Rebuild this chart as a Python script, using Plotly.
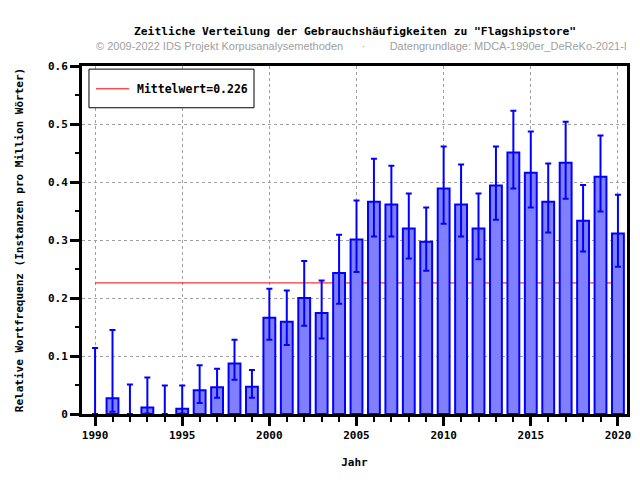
import plotly.graph_objects as go

years = list(range(1990, 2021))
values = [0.0, 0.027, 0.0, 0.011, 0.0, 0.009, 0.041, 0.046, 0.087, 0.047,
          0.166, 0.159, 0.200, 0.174, 0.243, 0.301, 0.366, 0.361, 0.320, 0.297,
          0.389, 0.361, 0.320, 0.394, 0.451, 0.416, 0.366, 0.433, 0.333, 0.409, 0.311]
err_upper = [0.114, 0.145, 0.051, 0.063, 0.049, 0.049, 0.084, 0.078, 0.128, 0.076,
             0.216, 0.213, 0.264, 0.230, 0.309, 0.368, 0.440, 0.428, 0.380, 0.356,
             0.461, 0.430, 0.380, 0.461, 0.523, 0.487, 0.432, 0.504, 0.395, 0.480, 0.378]
err_lower = [0.0, 0.004, 0.0, 0.001, 0.0, 0.001, 0.019, 0.028, 0.059, 0.028,
             0.128, 0.119, 0.152, 0.130, 0.190, 0.245, 0.306, 0.306, 0.268, 0.247,
             0.328, 0.306, 0.267, 0.335, 0.389, 0.356, 0.313, 0.371, 0.280, 0.349, 0.254]
mean_value = 0.226
mean_label = "Mittelwert=0.226"

title_text = 'Zeitliche Verteilung der Gebrauchshäufigkeiten zu "Flagshipstore"'
subtitle_text = "© 2009-2022 IDS Projekt Korpusanalysemethoden&nbsp;&nbsp;&nbsp;&nbsp;&nbsp;&nbsp;·&nbsp;&nbsp;&nbsp;&nbsp;&nbsp;&nbsp;&nbsp;&nbsp;Datengrundlage: MDCA-1990er_DeReKo-2021-I"
x_title = "Jahr"
y_title = "Relative Wortfrequenz (Instanzen pro Million Wörter)"

mono = "DejaVu Sans Mono"
x_range = [1989.25, 2020.52]
y_range = [0, 0.6]

fig = go.Figure()

# mean line on the base axes (drawn underneath the bars)
fig.add_trace(go.Scatter(
    x=[years[0], years[-1]], y=[mean_value, mean_value],
    mode="lines", line=dict(color="#ff0000", width=1),
    name=mean_label, showlegend=False, hoverinfo="skip",
    xaxis="x", yaxis="y"))

# bars on overlaying axes so they cover the mean line
fig.add_trace(go.Bar(
    x=years, y=values, width=0.68,
    marker=dict(color="#8080ff",
                line=dict(color="#0000ff", width=[2 if v > 0 else 0 for v in values])),
    error_y=dict(type="data", symmetric=False,
                 array=[u - v for u, v in zip(err_upper, values)],
                 arrayminus=[v - l for v, l in zip(values, err_lower)],
                 color="#0000ff", thickness=2, width=3),
    showlegend=False, xaxis="x2", yaxis="y2"))

# page body has an 8px margin, so the figure is 8px smaller and margins shifted
fig.update_layout(
    width=632, height=472,
    margin=dict(l=74, r=13, t=58, b=66, autoexpand=False),
    paper_bgcolor="white", plot_bgcolor="white",
    font=dict(family=mono, size=11, color="black", weight="bold"),
    showlegend=False,
    xaxis2=dict(overlaying="x", range=x_range, visible=False, showgrid=False),
    yaxis2=dict(overlaying="y", range=y_range, visible=False, showgrid=False),
)

# legend box (drawn by hand to match the reference's box size)
fig.add_shape(type="rect", xref="paper", yref="paper",
              x0=0.0128, x1=0.3156, y0=0.880, y1=0.991,
              line=dict(color="black", width=1), fillcolor="white", layer="above")
fig.add_shape(type="line", xref="paper", yref="paper",
              x0=0.0257, x1=0.0862, y0=0.9345, y1=0.9345,
              line=dict(color="#ff0000", width=1), layer="above")
fig.add_annotation(text=mean_label, xref="paper", yref="paper", x=0.0972, y=0.9345,
                   xanchor="left", yanchor="middle", showarrow=False,
                   font=dict(family=mono, size=11.5, color="black", weight="bold"))

fig.add_annotation(text=title_text, xref="paper", yref="paper", x=0.5, y=1,
                   xanchor="center", yanchor="bottom", yshift=26, showarrow=False,
                   font=dict(family=mono, size=11.3, color="black", weight="bold"))
fig.add_annotation(text=subtitle_text, xref="paper", yref="paper", x=0.5, y=1,
                   xanchor="center", yanchor="bottom", yshift=12, xshift=7, showarrow=False,
                   font=dict(family="Liberation Sans", size=11, color="#a0a0a0", weight="normal"))

fig.update_layout(xaxis=dict(
    range=x_range, tickmode="linear", tick0=1990, dtick=5,
    showline=True, linecolor="black", linewidth=3, mirror=True,
    ticks="outside", ticklen=9, tickwidth=3, tickcolor="black",
    showgrid=True, gridcolor="#a0a0a0", griddash="dot", gridwidth=1,
    zeroline=False, automargin=False,
    minor=dict(dtick=1, tick0=1990, ticks="outside", ticklen=5, tickwidth=2,
               tickcolor="black", showgrid=False),
    title=dict(text=x_title, standoff=18, font=dict(family=mono, size=11, weight="bold")),
    tickfont=dict(family=mono, size=11, weight="bold"),
))
fig.update_layout(yaxis=dict(
    range=y_range, tickmode="linear", tick0=0, dtick=0.1,
    showline=True, linecolor="black", linewidth=3, mirror=True,
    ticks="outside", ticklen=9, tickwidth=3, tickcolor="black",
    showgrid=True, gridcolor="#a0a0a0", griddash="dot", gridwidth=1,
    zeroline=False, automargin=False,
    minor=dict(dtick=0.05, tick0=0, ticks="outside", ticklen=4, tickwidth=2,
               tickcolor="black", showgrid=False),
    title=dict(text=y_title, standoff=23, font=dict(family=mono, size=11, weight="bold")),
    tickfont=dict(family=mono, size=11, weight="bold"),
))

fig.write_html("out.html")
